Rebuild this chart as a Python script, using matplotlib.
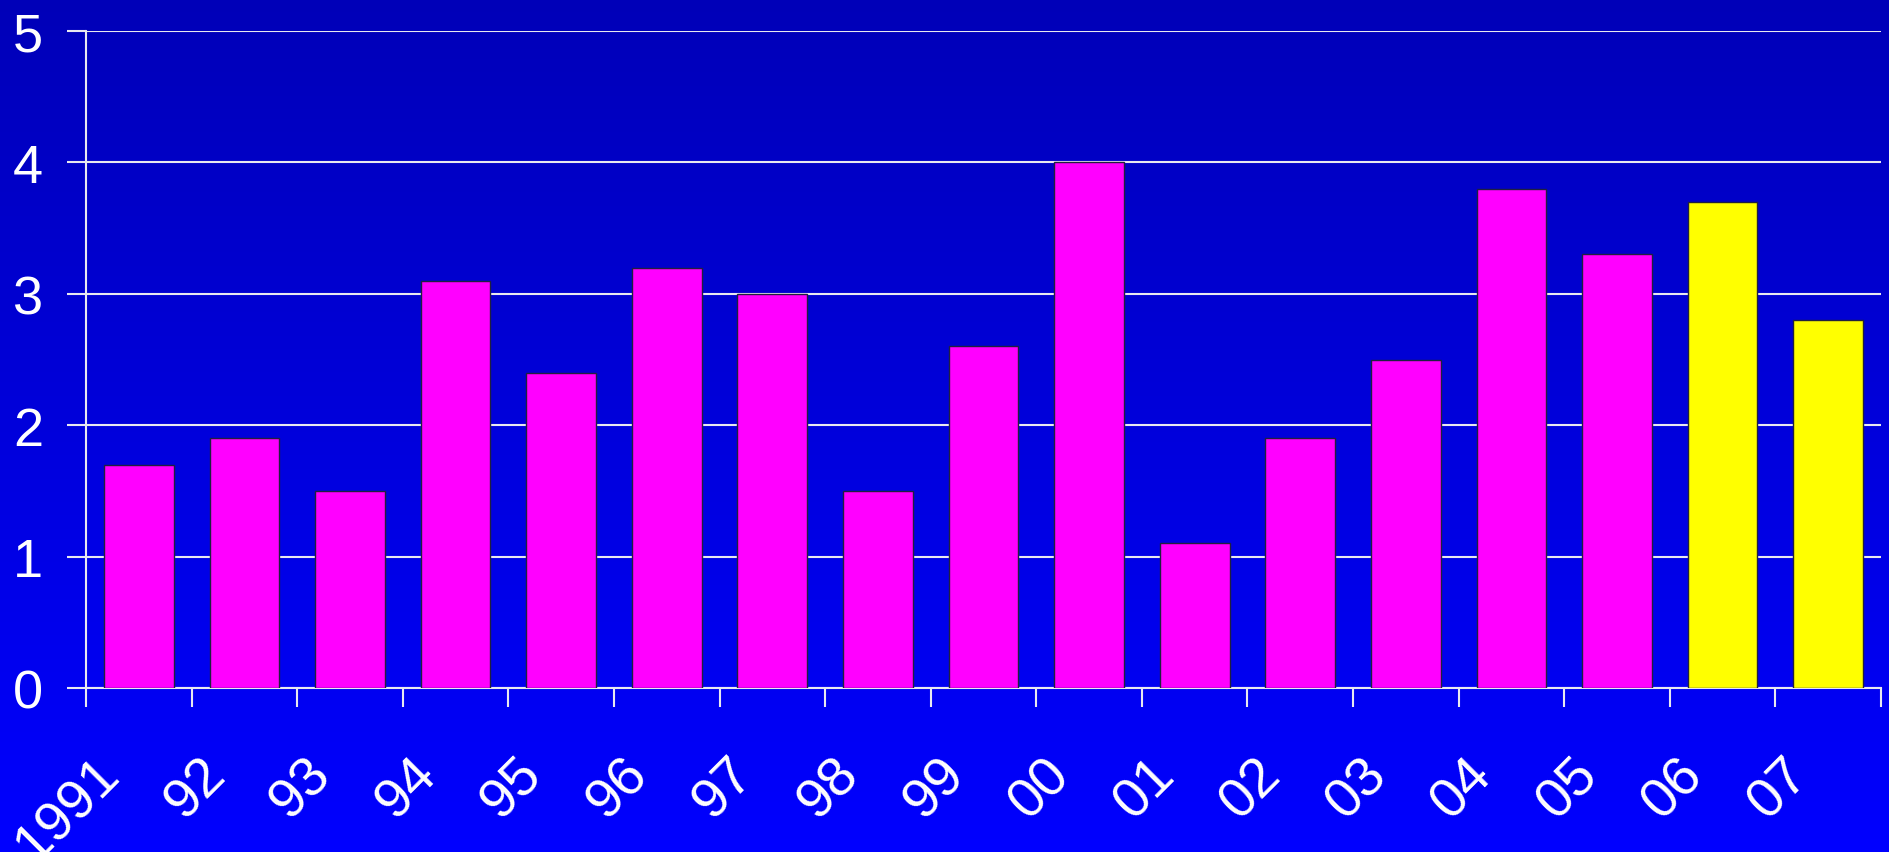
import numpy as np
import matplotlib
matplotlib.use('Agg')
import matplotlib.pyplot as plt
import matplotlib.transforms as mtransforms

years = ['1991', '92', '93', '94', '95', '96', '97', '98', '99',
         '00', '01', '02', '03', '04', '05', '06', '07']
values = [1.7, 1.9, 1.5, 3.1, 2.4, 3.2, 3.0, 1.5, 2.6,
          4.0, 1.1, 1.9, 2.5, 3.8, 3.3, 3.7, 2.8]
# last two years drawn in yellow
forecast = [False] * 15 + [True] * 2

plt.rcParams['font.family'] = ['Liberation Sans', 'DejaVu Sans']

W, H = 1889, 853
fig = plt.figure(figsize=(W / 100, H / 100), dpi=100)

# background gradient, dark blue at the top to bright blue at the bottom
bg = fig.add_axes([0, 0, 1, 1], zorder=-10)
grad = np.linspace(0, 1, 256).reshape(-1, 1)
top = np.array([0, 0, 0xB8]) / 255
bot = np.array([0, 0, 0xFF]) / 255
img = top + (bot - top) * grad[:, :, None]
bg.imshow(img, aspect='auto', extent=[0, 1, 0, 1], origin='upper')
bg.axis('off')

left, right, top_px, bottom_px = 86, 1881, 32, 689
ax = fig.add_axes([left / W, 1 - bottom_px / H, (right - left) / W, (bottom_px - top_px) / H])
ax.set_facecolor('none')

x = np.arange(len(years))
colors = ['#FFFF00' if f else '#FF00FF' for f in forecast]
ax.bar(x, values, width=0.66, color=colors, edgecolor='#202040', linewidth=1.0, zorder=3)

ax.set_xlim(-0.5, len(years) - 0.5)
ax.set_ylim(0, 5)
ax.set_yticks(range(6))
ax.yaxis.grid(True, color='#E8E8F0', linewidth=1.5, zorder=1)
ax.set_axisbelow(True)

for s in ['top', 'right']:
    ax.spines[s].set_visible(False)
for s in ['left', 'bottom']:
    ax.spines[s].set_color('#E8E8F0')
    ax.spines[s].set_linewidth(1.5)

ax.tick_params(axis='y', colors='white', labelsize=39, length=14, width=1.5,
               pad=17)
ax.tick_params(axis='y', color='#E8E8F0')

# boundaries between categories get the tick marks, labels sit at centres
ax.set_xticks(np.arange(len(years) + 1) - 0.5, minor=True)
ax.set_xticks(x)
ax.set_xticklabels(years, rotation=45, ha='right', va='center',
                   rotation_mode='anchor')
ax.tick_params(axis='x', which='minor', length=14, width=1.5, color='#E8E8F0')
ax.tick_params(axis='x', which='major', length=0, labelsize=40,
               labelcolor='white', pad=56)
offset = mtransforms.ScaledTranslation(-27 / 100, 0, fig.dpi_scale_trans)
for lab in ax.get_xticklabels():
    lab.set_transform(lab.get_transform() + offset)

fig.savefig('out.png', dpi=100)
